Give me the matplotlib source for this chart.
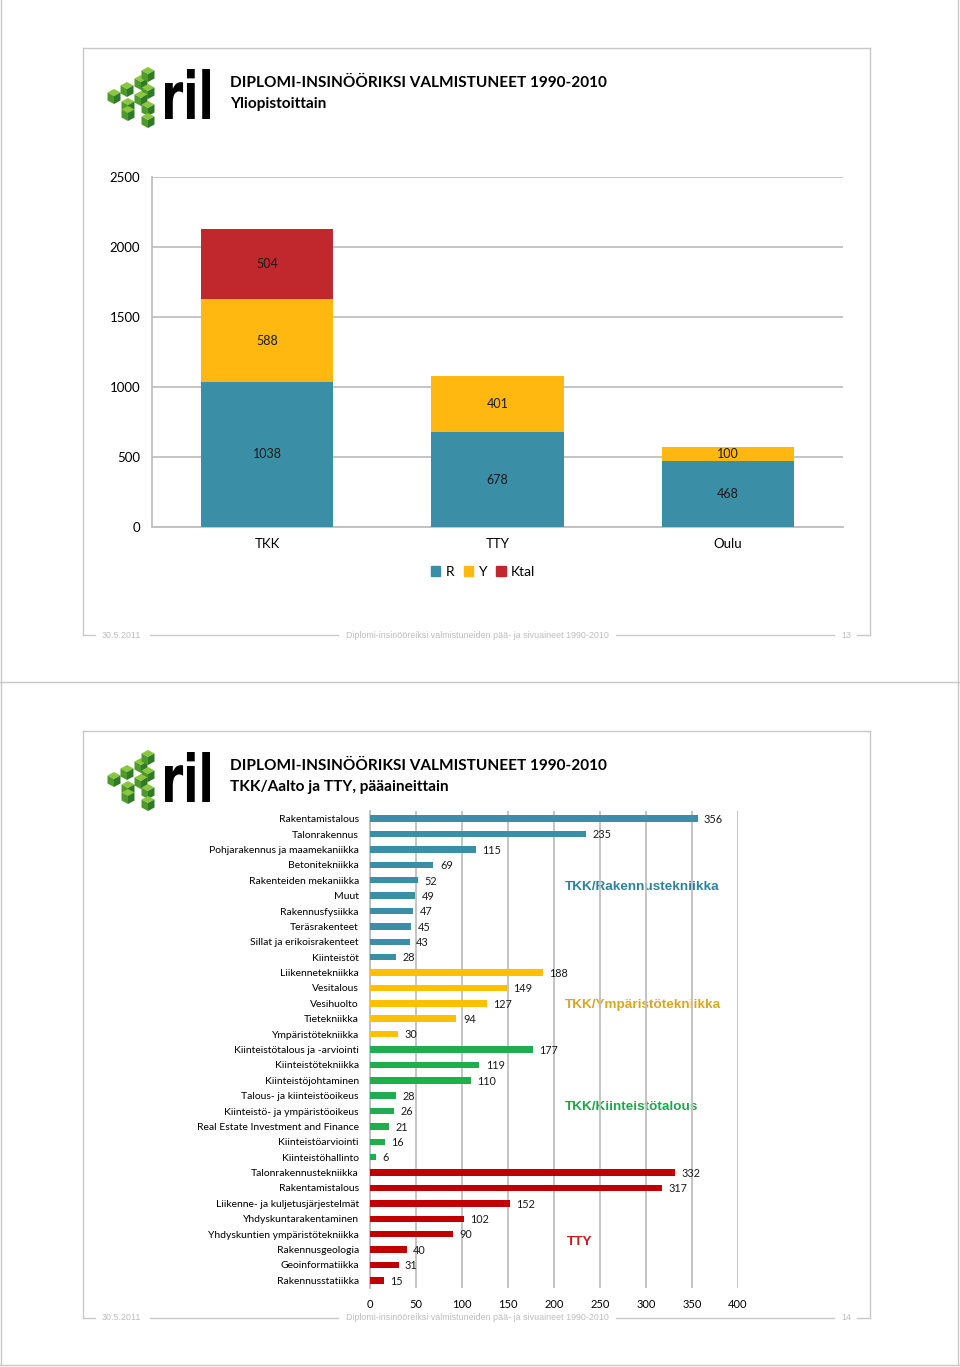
import matplotlib.pyplot as plt
import numpy as np
from matplotlib.patches import Patch, Polygon, PathPatch
from matplotlib.textpath import TextPath
from matplotlib.font_manager import FontProperties
from matplotlib.transforms import Affine2D

# Slide 1: graduates by university
universities = ['TKK', 'TTY', 'Oulu']
r_vals = [1038, 678, 468]
y_vals = [588, 401, 100]
ktal_vals = [504, 0, 0]

# Slide 2: graduates by major subject
rak_names = ['Rakentamistalous', 'Talonrakennus', 'Pohjarakennus ja maamekaniikka', 'Betonitekniikka',
             'Rakenteiden mekaniikka', 'Muut', 'Rakennusfysiikka', 'Teräsrakenteet',
             'Sillat ja erikoisrakenteet', 'Kiinteistöt']
rak_vals = [356, 235, 115, 69, 52, 49, 47, 45, 43, 28]
ymp_names = ['Liikennetekniikka', 'Vesitalous', 'Vesihuolto', 'Tietekniikka', 'Ympäristötekniikka']
ymp_vals = [188, 149, 127, 94, 30]
kiint_names = ['Kiinteistötalous ja -arviointi', 'Kiinteistötekniikka', 'Kiinteistöjohtaminen',
               'Talous- ja kiinteistöoikeus', 'Kiinteistö- ja ympäristöoikeus',
               'Real Estate Investment and Finance', 'Kiinteistöarviointi', 'Kiinteistöhallinto']
kiint_vals = [177, 119, 110, 28, 26, 21, 16, 6]
tty_names = ['Talonrakennustekniikka', 'Rakentamistalous', 'Liikenne- ja kuljetusjärjestelmät',
             'Yhdyskuntarakentaminen', 'Yhdyskuntien ympäristötekniikka', 'Rakennusgeologia',
             'Geoinformatiikka', 'Rakennusstatiikka']
tty_vals = [332, 317, 152, 102, 90, 40, 31, 15]

TEAL = '#3A8FA7'
GOLD = '#FFB80F'
RED1 = '#C0282D'
YEL2 = '#FFC000'
GRN2 = '#1FAE4D'
RED2 = '#C00000'
GRID = '#BFBFBF'
FRAME = '#C8C8C8'

W, H = 960, 1367
fig = plt.figure(figsize=(W / 100, H / 100), dpi=100)
bg = fig.add_axes([0, 0, 1, 1])
bg.set_xlim(0, W)
bg.set_ylim(H, 0)
bg.axis('off')


def rect(x0, y0, x1, y1):
    return [x0 / W, 1 - y1 / H, (x1 - x0) / W, (y1 - y0) / H]


def cube(cx, cy):
    top = [(cx, cy - 6), (cx + 6.5, cy - 2.5), (cx, cy + 1), (cx - 6.5, cy - 2.5)]
    left = [(cx - 6.5, cy - 2.5), (cx, cy + 1), (cx, cy + 9), (cx - 6.5, cy + 5.5)]
    right = [(cx, cy + 1), (cx + 6.5, cy - 2.5), (cx + 6.5, cy + 5.5), (cx, cy + 9)]
    bg.add_patch(Polygon(top, closed=True, fc='#8CC63F', ec='none'))
    bg.add_patch(Polygon(left, closed=True, fc='#4E9A2A', ec='none'))
    bg.add_patch(Polygon(right, closed=True, fc='#2F7A26', ec='none'))


def page(dy, title2, num):
    # page border and slide frame
    bg.plot([1, 1], [dy, dy + 682], color=FRAME, lw=1)
    bg.plot([958, 958], [dy, dy + 682], color=FRAME, lw=1)
    bg.plot([0, 960], [dy + 682, dy + 682], color=FRAME, lw=1)
    bg.plot([83, 870], [dy + 48, dy + 48], color=FRAME, lw=1)
    bg.plot([83, 83], [dy + 48, dy + 635], color=FRAME, lw=1)
    bg.plot([870, 870], [dy + 48, dy + 635], color=FRAME, lw=1)
    for a, b in [(83, 95), (150, 338), (616, 834), (857, 870)]:
        bg.plot([a, b], [dy + 635, dy + 635], color=FRAME, lw=1)
    ff = dict(family='Liberation Sans', fontsize=6.4, color='#BDBDBD', va='center', ha='center')
    bg.text(121, dy + 635, '30.5.2011', **ff)
    bg.text(477, dy + 635, 'Diplomi-insinööreiksi valmistuneiden pää- ja sivuaineet 1990-2010', **ff)
    bg.text(846, dy + 635, num, **ff)

    # logo
    for cx, cy in [(114, 95), (127, 88), (141, 81), (148, 73), (128, 104), (148, 90),
                   (141, 97), (128, 112), (148, 107), (148, 119)]:
        cube(cx, cy + dy)
    tp = TextPath((0, 0), 'ril', size=1, prop=FontProperties(family='DejaVu Sans', weight='heavy'))
    ext = tp.get_extents()
    sx = 45 / ext.width
    sy = 50 / ext.height
    tr = Affine2D().translate(-ext.x0, -ext.y0).scale(sx, -sy).translate(165, dy + 119)
    bg.add_patch(PathPatch(tr.transform_path(tp), fc='black', ec='none'))

    tf = dict(family='Lato', fontweight='bold', fontsize=11.1, color='black', va='center', ha='left')
    bg.text(230, dy + 83, 'DIPLOMI-INSINÖÖRIKSI VALMISTUNEET 1990-2010', **tf)
    bg.text(230, dy + 104, title2, **tf)


page(0, 'Yliopistoittain', '13')
page(683, 'TKK/Aalto ja TTY, pääaineittain', '14')

# ---- chart 1: stacked columns
ax1 = fig.add_axes(rect(152, 177, 843, 527))
x = np.arange(len(universities))
bw = 0.575
ax1.bar(x, r_vals, bw, color=TEAL, label='R', zorder=3)
ax1.bar(x, y_vals, bw, bottom=r_vals, color=GOLD, label='Y', zorder=3)
bot2 = np.array(r_vals) + np.array(y_vals)
ax1.bar(x, ktal_vals, bw, bottom=bot2, color=RED1, label='Ktal', zorder=3)

lab = dict(ha='center', va='center', fontsize=9, family='Lato', color='#1a1a1a', zorder=4)
for i in range(3):
    ax1.text(x[i], r_vals[i] / 2, str(r_vals[i]), **lab)
    if y_vals[i]:
        ax1.text(x[i], r_vals[i] + y_vals[i] / 2, str(y_vals[i]), **lab)
    if ktal_vals[i]:
        ax1.text(x[i], bot2[i] + ktal_vals[i] / 2, str(ktal_vals[i]), **lab)

ax1.set_xlim(-0.5, 2.5)
ax1.set_ylim(0, 2500)
ax1.set_yticks(range(0, 2501, 500))
ax1.set_xticks(x)
ax1.set_xticklabels(universities)
ax1.yaxis.grid(True, color=GRID, lw=1.3, zorder=0)
ax1.tick_params(length=0, labelsize=9.5)
ax1.tick_params(axis='y', pad=8.5)
ax1.tick_params(axis='x', pad=8)
for lbl in ax1.get_xticklabels() + ax1.get_yticklabels():
    lbl.set_family('Lato')
for s in ['top', 'right']:
    ax1.spines[s].set_visible(False)
ax1.spines['left'].set_color(GRID)
ax1.spines['bottom'].set_color(GRID)
ax1.spines['left'].set_linewidth(1.3)
ax1.spines['bottom'].set_linewidth(1.3)
ax1.set_facecolor('none')

hs = [Patch(color=TEAL), Patch(color=GOLD), Patch(color=RED1)]
leg = fig.legend(hs, ['R', 'Y', 'Ktal'], loc='center', bbox_to_anchor=(483 / W, 1 - 572 / H),
                 ncol=3, frameon=False, handlelength=0.7, handleheight=0.7, columnspacing=0.7,
                 handletextpad=0.35, prop={'family': 'Lato', 'size': 10})

# ---- chart 2: horizontal bars
names = rak_names + ymp_names + kiint_names + tty_names
vals = rak_vals + ymp_vals + kiint_vals + tty_vals
cols = ([TEAL] * len(rak_vals) + [YEL2] * len(ymp_vals) + [GRN2] * len(kiint_vals)
        + [RED2] * len(tty_vals))
ax2 = fig.add_axes(rect(370, 811, 738, 1288))
yy = np.arange(len(vals))
ax2.barh(yy, vals, 0.42, color=cols, zorder=3)
for i, v in enumerate(vals):
    ax2.text(v + 7, i + 0.05, str(v), va='center', ha='left', fontsize=7.8, family='Lato',
             color='#1a1a1a', zorder=4)
ax2.set_xlim(0, 400)
ax2.set_ylim(len(vals) - 0.5, -0.5)
ax2.set_xticks(range(0, 401, 50))
ax2.set_yticks(yy)
ax2.set_yticklabels(names)
ax2.xaxis.grid(True, color=GRID, lw=1.3, zorder=0)
ax2.tick_params(length=0, labelsize=7.5)
ax2.tick_params(axis='y', pad=8)
ax2.tick_params(axis='x', pad=8, labelsize=8)
for lbl in ax2.get_xticklabels() + ax2.get_yticklabels():
    lbl.set_family('Lato')
for s in ['top', 'right', 'bottom']:
    ax2.spines[s].set_visible(False)
ax2.spines['left'].set_color(GRID)
ax2.spines['left'].set_linewidth(1.3)
ax2.set_facecolor('none')

gf = dict(family='Liberation Sans', fontweight='bold', fontsize=9.7, va='center', ha='left')
bg.text(565, 887, 'TKK/Rakennustekniikka', color='#2E8399', **gf)
bg.text(565, 1005, 'TKK/Ympäristötekniikka', color='#D9A71E', **gf)
bg.text(565, 1107, 'TKK/Kiinteistötalous', color='#22A34E', **gf)
bg.text(567, 1242, 'TTY', color='#C8191E', **gf)

fig.savefig('out.png', dpi=100, facecolor='white')
